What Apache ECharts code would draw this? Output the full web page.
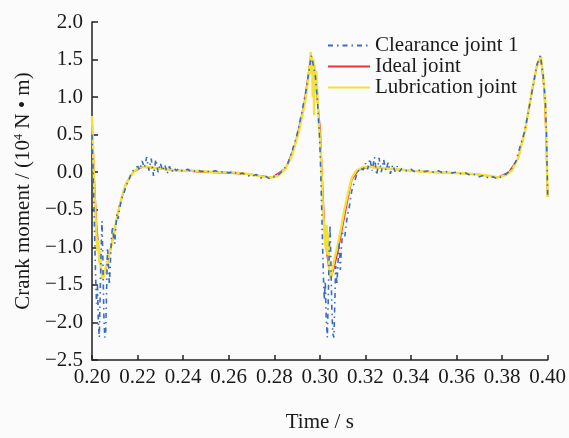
<!DOCTYPE html>
<html>
<head>
<meta charset="utf-8">
<script src="https://cdn.jsdelivr.net/npm/echarts@6/dist/echarts.min.js"></script>
<style>
  html, body { margin: 0; padding: 0; background: #fbfbfb; }
  #chart { width: 569px; height: 438px; }
</style>
</head>
<body>
<div id="chart"></div>
<script>
// [time s, moment 10^4 N·m]
const clearanceData = [
  [0.2000, 0.50], [0.2004, 0.10], [0.2008, -0.40], [0.2012, -0.90], [0.2016, -1.40],
  [0.2020, -1.75], [0.2024, -1.50], [0.2028, -2.00], [0.2032, -2.20], [0.2036, -1.60],
  [0.2040, -1.05], [0.2044, -0.65], [0.2048, -1.20], [0.2052, -1.90], [0.2056, -2.20],
  [0.2060, -2.15], [0.2064, -1.60], [0.2068, -1.00], [0.2072, -1.20], [0.2076, -1.50],
  [0.2080, -1.25], [0.2085, -0.90], [0.2090, -0.72], [0.2095, -0.85], [0.2100, -0.95],
  [0.2105, -0.70], [0.2110, -0.55], [0.2115, -0.62], [0.2120, -0.50], [0.2130, -0.35],
  [0.2140, -0.28], [0.2150, -0.18], [0.2160, -0.12], [0.2170, -0.03], [0.2180, 0.02],
  [0.2190, 0.05], [0.2200, 0.08], [0.2210, 0.03], [0.2220, 0.15], [0.2230, 0.06],
  [0.2240, 0.20], [0.2250, 0.02], [0.2260, 0.18], [0.2270, -0.05], [0.2280, 0.17],
  [0.2290, 0.00], [0.2300, 0.12], [0.2310, 0.02], [0.2320, 0.10], [0.2330, -0.02],
  [0.2340, 0.08], [0.2350, 0.00], [0.2360, 0.06], [0.2370, 0.02], [0.2380, 0.05],
  [0.2400, 0.01], [0.2420, 0.04], [0.2440, 0.00], [0.2460, 0.03], [0.2480, 0.01],
  [0.2500, 0.02], [0.2520, 0.00], [0.2540, 0.02], [0.2560, 0.00], [0.2580, 0.01],
  [0.2600, -0.01], [0.2620, 0.01], [0.2640, -0.03], [0.2660, -0.01], [0.2680, -0.04],
  [0.2700, -0.06], [0.2720, -0.03], [0.2740, -0.08], [0.2760, -0.05], [0.2780, -0.09],
  [0.2800, -0.06], [0.2820, -0.03], [0.2840, 0.03], [0.2860, 0.12], [0.2880, 0.30],
  [0.2900, 0.50], [0.2920, 0.78], [0.2940, 1.10], [0.2955, 1.40], [0.2962, 1.55],
  [0.2970, 1.45], [0.2980, 1.30], [0.2990, 0.95], [0.3000, 0.40], [0.3004, 0.00],
  [0.3008, -0.45], [0.3012, -0.95], [0.3016, -1.40], [0.3020, -1.70], [0.3024, -1.45],
  [0.3028, -1.95], [0.3033, -2.20], [0.3037, -1.70], [0.3041, -1.10], [0.3045, -0.70],
  [0.3049, -1.25], [0.3053, -1.85], [0.3057, -2.15], [0.3062, -2.20], [0.3066, -1.70],
  [0.3070, -1.25], [0.3075, -1.50], [0.3080, -1.20], [0.3085, -0.95], [0.3090, -1.30],
  [0.3095, -1.00], [0.3100, -0.80], [0.3110, -0.85], [0.3120, -0.60], [0.3130, -0.45],
  [0.3140, -0.25], [0.3150, -0.15], [0.3160, -0.05], [0.3170, 0.02], [0.3180, 0.06],
  [0.3190, 0.03], [0.3200, 0.12], [0.3210, 0.04], [0.3220, 0.18], [0.3230, 0.02],
  [0.3240, 0.20], [0.3250, -0.04], [0.3260, 0.19], [0.3270, 0.00], [0.3280, 0.17],
  [0.3290, 0.02], [0.3300, 0.13], [0.3310, -0.02], [0.3320, 0.10], [0.3330, 0.01],
  [0.3340, 0.08], [0.3350, 0.01], [0.3360, 0.05], [0.3380, 0.02], [0.3400, 0.04],
  [0.3420, 0.00], [0.3440, 0.03], [0.3460, 0.01], [0.3480, 0.02], [0.3500, 0.00],
  [0.3520, 0.02], [0.3540, -0.01], [0.3560, 0.01], [0.3580, -0.01], [0.3600, 0.00],
  [0.3620, -0.02], [0.3640, -0.01], [0.3660, -0.04], [0.3680, -0.03], [0.3700, -0.06],
  [0.3720, -0.04], [0.3740, -0.08], [0.3760, -0.06], [0.3780, -0.09], [0.3800, -0.05],
  [0.3820, -0.02], [0.3840, 0.04], [0.3860, 0.14], [0.3880, 0.35], [0.3900, 0.55],
  [0.3920, 0.88], [0.3940, 1.22], [0.3955, 1.45], [0.3968, 1.55], [0.3980, 1.30],
  [0.3990, 0.95], [0.3995, 0.50], [0.4000, -0.30]
];

const idealData = [
  [0.2000, 0.72], [0.2010, -0.10], [0.2020, -0.70], [0.2030, -1.05], [0.2040, -1.28],
  [0.2048, -1.40], [0.2060, -1.30], [0.2080, -1.05], [0.2100, -0.75], [0.2120, -0.45],
  [0.2150, -0.15], [0.2180, 0.00], [0.2220, 0.07], [0.2300, 0.05], [0.2400, 0.02],
  [0.2500, 0.00], [0.2600, -0.01], [0.2700, -0.03], [0.2790, -0.07], [0.2850, 0.05],
  [0.2890, 0.35], [0.2930, 0.88], [0.2960, 1.52], [0.2975, 1.40], [0.2990, 0.95],
  [0.3002, 0.55], [0.3010, -0.05], [0.3020, -0.70], [0.3030, -1.05], [0.3040, -1.28],
  [0.3048, -1.40], [0.3060, -1.30], [0.3080, -1.05], [0.3100, -0.72], [0.3120, -0.40],
  [0.3140, -0.10], [0.3170, 0.03], [0.3210, 0.07], [0.3300, 0.05], [0.3400, 0.02],
  [0.3500, 0.00], [0.3600, -0.01], [0.3700, -0.03], [0.3780, -0.07], [0.3830, 0.00],
  [0.3870, 0.18], [0.3900, 0.55], [0.3930, 1.05], [0.3952, 1.40], [0.3970, 1.54],
  [0.3985, 1.10], [0.3993, 0.50], [0.4000, -0.33]
];

const lubricationData = [
  [0.2000, 0.75], [0.2004, 0.35], [0.2008, -0.05], [0.2012, -0.35], [0.2016, -0.62],
  [0.2020, -0.85], [0.2024, -1.05], [0.2028, -0.90], [0.2032, -1.20], [0.2036, -1.05],
  [0.2040, -1.32], [0.2044, -1.38], [0.2048, -1.43], [0.2055, -1.33], [0.2062, -1.25],
  [0.2070, -1.16], [0.2080, -1.03], [0.2092, -0.90], [0.2102, -0.72], [0.2112, -0.56],
  [0.2121, -0.46], [0.2135, -0.28], [0.2150, -0.15], [0.2165, -0.07], [0.2185, 0.01],
  [0.2200, 0.05], [0.2216, 0.07], [0.2250, 0.07], [0.2300, 0.05], [0.2350, 0.03],
  [0.2400, 0.02], [0.2450, 0.02], [0.2500, 0.01], [0.2550, 0.00], [0.2600, 0.00],
  [0.2650, -0.01], [0.2700, -0.03], [0.2750, -0.06], [0.2785, -0.07], [0.2815, -0.05],
  [0.2845, 0.03], [0.2865, 0.14], [0.2880, 0.24], [0.2895, 0.40], [0.2909, 0.55],
  [0.2925, 0.78], [0.2938, 0.98], [0.2948, 1.20], [0.2955, 1.40], [0.2960, 1.60],
  [0.2963, 1.30], [0.2966, 1.55], [0.2969, 1.00], [0.2972, 1.50], [0.2975, 0.76],
  [0.2978, 1.42], [0.2981, 1.15], [0.2984, 1.35], [0.2990, 1.00], [0.2996, 0.62],
  [0.3000, 0.50], [0.3005, 0.25], [0.3010, -0.20], [0.3015, -0.55], [0.3020, -0.80],
  [0.3025, -1.00], [0.3030, -0.70], [0.3033, -1.10], [0.3037, -0.80], [0.3040, -1.25],
  [0.3045, -1.38], [0.3048, -1.42], [0.3055, -1.30], [0.3065, -1.15], [0.3080, -0.95],
  [0.3095, -0.72], [0.3108, -0.50], [0.3120, -0.33], [0.3130, -0.20], [0.3141, -0.07],
  [0.3160, 0.02], [0.3190, 0.07], [0.3230, 0.07], [0.3300, 0.05], [0.3400, 0.02],
  [0.3500, 0.00], [0.3600, -0.01], [0.3700, -0.03], [0.3750, -0.05], [0.3784, -0.07],
  [0.3815, -0.04], [0.3843, 0.02], [0.3872, 0.20], [0.3901, 0.55], [0.3930, 1.07],
  [0.3952, 1.41], [0.3970, 1.55], [0.3980, 1.30], [0.3989, 0.98], [0.3995, 0.40],
  [0.4000, -0.33]
];

const seriesNames = ['Clearance joint 1', 'Ideal joint', 'Lubrication joint'];

const font = 'Liberation Serif';
const chart = echarts.init(document.getElementById('chart'));

chart.setOption({
  backgroundColor: '#fbfbfb',
  animation: false,
  grid: { left: 92, right: 20, top: 22, bottom: 72 },
  legend: {
    orient: 'vertical',
    left: 322,
    top: 30,
    itemWidth: 42,
    itemHeight: 10,
    itemGap: 0,
    itemStyle: { opacity: 0 },
    textStyle: { fontFamily: font, fontSize: 21, lineHeight: 20, color: '#1a1a1a' },
    data: seriesNames
  },
  xAxis: {
    type: 'value',
    min: 0.2,
    max: 0.4,
    interval: 0.02,
    name: 'Time / s',
    nameLocation: 'middle',
    nameGap: 52,
    nameTextStyle: { fontFamily: font, fontSize: 21, color: '#1a1a1a' },
    axisLine: { onZero: false, lineStyle: { color: '#222', width: 1.5 } },
    axisTick: { inside: true, length: 5, lineStyle: { color: '#222', width: 1.5 } },
    axisLabel: {
      margin: 7, fontFamily: font, fontSize: 21, color: '#1a1a1a',
      formatter: v => v.toFixed(2)
    },
    splitLine: { show: false }
  },
  yAxis: {
    type: 'value',
    min: -2.5,
    max: 2.0,
    interval: 0.5,
    name: '{a|Crank moment / (10}{s|4}{a| N • m)}',
    nameLocation: 'middle',
    nameRotate: 90,
    nameGap: 55,
    nameTextStyle: {
      rich: {
        a: { fontFamily: font, fontSize: 21, color: '#1a1a1a' },
        s: { fontFamily: font, fontSize: 12, color: '#1a1a1a', padding: [0, 0, 9, 0] }
      }
    },
    axisLine: { show: true, onZero: false, lineStyle: { color: '#222', width: 1.5 } },
    axisTick: { show: true, inside: true, length: 6, lineStyle: { color: '#222', width: 1.5 } },
    axisLabel: {
      margin: 9, fontFamily: font, fontSize: 21, color: '#1a1a1a',
      formatter: v => v.toFixed(1).replace('-', '\u2212')
    },
    splitLine: { show: false }
  },
  series: [
    {
      name: seriesNames[0], type: 'line', data: clearanceData, symbol: 'none', z: 4,
      color: '#3a6cc2',
      lineStyle: { color: '#3a6cc2', width: 1.6, type: [5, 4, 1.5, 4] }
    },
    {
      name: seriesNames[1], type: 'line', data: idealData, symbol: 'none', z: 2,
      color: '#e8333a',
      lineStyle: { color: '#e8333a', width: 1.6 }
    },
    {
      name: seriesNames[2], type: 'line', data: lubricationData, symbol: 'none', z: 3,
      color: '#f3e13a',
      lineStyle: { color: '#f3e13a', width: 2.4 }
    }
  ]
});
</script>
</body>
</html>
